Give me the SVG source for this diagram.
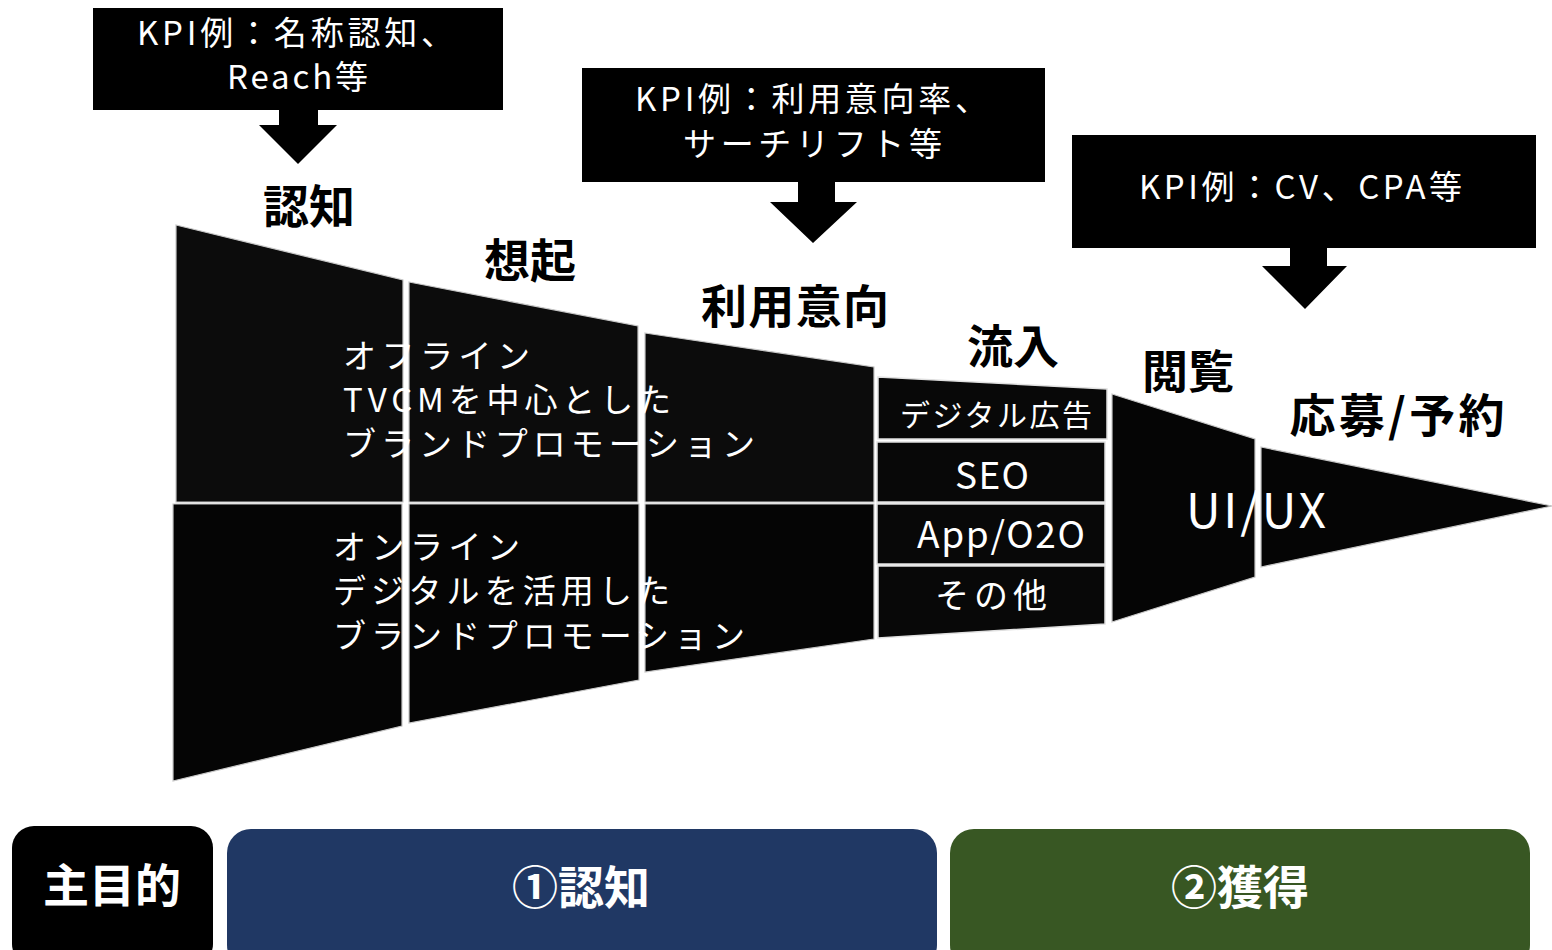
<svg xmlns="http://www.w3.org/2000/svg" width="1552" height="950" viewBox="0 0 1552 950">
<style>
.kpi{fill:#000}
.t{font-family:"Noto Sans CJK JP","Noto Sans",sans-serif;fill:#fff}
.lbl{font-family:"Noto Sans CJK JP","Noto Sans",sans-serif;font-weight:700;fill:#000;font-size:46px;text-anchor:middle}
.up{fill:#0c0c0c;stroke:#c8c8c8;stroke-width:1.2}
.lo{fill:#050505;stroke:#c8c8c8;stroke-width:1.2}
.bx{fill:#080808;stroke:#e0e0e0;stroke-width:1.5}
.bt{font-family:"Noto Sans CJK JP","Noto Sans",sans-serif;font-weight:700;fill:#fff;font-size:46px;text-anchor:middle}
</style>
<rect width="1552" height="950" fill="#fff"/>

<g id="kpi1">
<rect class="kpi" x="93" y="8" width="410" height="102"/>
<text class="t" font-size="33" x="137" y="45" textLength="317" lengthAdjust="spacing">KPI例：名称認知、</text>
<text class="t" font-size="33" x="227" y="89" textLength="141" lengthAdjust="spacing">Reach等</text>
</g>
<g id="kpi2">
<rect class="kpi" x="582" y="68" width="463" height="114"/>
<text class="t" font-size="33" x="635" y="111" textLength="353" lengthAdjust="spacing">KPI例：利用意向率、</text>
<text class="t" font-size="33" x="683" y="156" textLength="259" lengthAdjust="spacing">サーチリフト等</text>
</g>
<g id="kpi3">
<rect class="kpi" x="1072" y="135" width="464" height="113"/>
<text class="t" font-size="33" x="1139" y="199" textLength="323" lengthAdjust="spacing">KPI例：CV、CPA等</text>
</g>

<g id="connectors">
<polygon class="kpi" points="279,109 318,109 318,125 337,125 298,164 259,125 279,125"/>
<polygon class="kpi" points="798,181 835,181 835,202 857,202 813,243 770,202 798,202"/>
<polygon class="kpi" points="1290,247 1327,247 1327,266 1347,266 1305,309 1262,266 1290,266"/>
</g>

<g id="stage-ninchi">
<polygon class="up" points="176,225 403,280 403,502 176,502"/>
<polygon class="lo" points="173,504 402,504 402,726 173,781"/>
<text class="lbl" x="309" y="223">認知</text>
</g>
<g id="stage-souki">
<polygon class="up" points="409,282 638,326 638,502 409,502"/>
<polygon class="lo" points="409,504 639,504 639,680 409,723"/>
<text class="lbl" x="530" y="277">想起</text>
</g>
<g id="stage-iko">
<polygon class="up" points="645,333 874,367 874,502 645,502"/>
<polygon class="lo" points="645,504 874,504 874,639 645,672"/>
<text class="lbl" x="795" y="323" textLength="188" lengthAdjust="spacing">利用意向</text>
</g>
<g id="stage-ryunyu">
<polygon class="bx" points="878,377 1107,389 1107,439 878,439"/>
<polygon class="bx" points="877,442 1105,442 1105,502 877,502"/>
<polygon class="bx" points="877,504 1105,504 1105,564 877,564"/>
<polygon class="bx" points="878,566 1105,566 1105,624 878,638"/>
<text class="lbl" x="1013" y="363">流入</text>
<text class="t" font-size="30" x="900" y="426" textLength="192" lengthAdjust="spacing">デジタル広告</text>
<text class="t" font-size="37" x="955" y="489" textLength="74" lengthAdjust="spacing">SEO</text>
<text class="t" font-size="37" x="917" y="548" textLength="168" lengthAdjust="spacing">App/O2O</text>
<text class="t" font-size="34" x="935" y="608" textLength="112" lengthAdjust="spacing">その他</text>
</g>
<g id="stage-etsuran">
<polygon class="lo" points="1112,394 1255,439 1255,577 1112,622"/>
<text class="lbl" x="1188" y="388">閲覧</text>
</g>
<g id="stage-oubo">
<polygon class="lo" points="1261,447 1552,506 1261,567"/>
<text class="lbl" x="1397" y="432" textLength="215" lengthAdjust="spacing">応募/予約</text>
</g>

<g id="funnel-text">
<text class="t" font-size="33" x="343" y="368" textLength="187" lengthAdjust="spacing">オフライン</text>
<text class="t" font-size="33" x="343" y="412" textLength="328" lengthAdjust="spacing">TVCMを中心とした</text>
<text class="t" font-size="33" x="343" y="456" textLength="412" lengthAdjust="spacing">ブランドプロモーション</text>
<text class="t" font-size="33" x="333" y="559" textLength="187" lengthAdjust="spacing">オンライン</text>
<text class="t" font-size="33" x="333" y="603" textLength="337" lengthAdjust="spacing">デジタルを活用した</text>
<text class="t" font-size="33" x="333" y="648" textLength="412" lengthAdjust="spacing">ブランドプロモーション</text>
<text class="t" font-size="48" x="1186" y="528" textLength="140" lengthAdjust="spacing">UI/UX</text>
</g>

<g id="purpose">
<rect x="12" y="826" width="201" height="140" rx="22" fill="#000"/>
<text class="bt" x="112" y="902">主目的</text>
</g>
<g id="goal-ninchi">
<rect x="227" y="829" width="710" height="140" rx="24" fill="#203864"/>
<text class="bt" x="581" y="904">①認知</text>
</g>
<g id="goal-kakutoku">
<rect x="950" y="829" width="580" height="140" rx="24" fill="#385723"/>
<text class="bt" x="1240" y="904">②獲得</text>
</g>
</svg>
